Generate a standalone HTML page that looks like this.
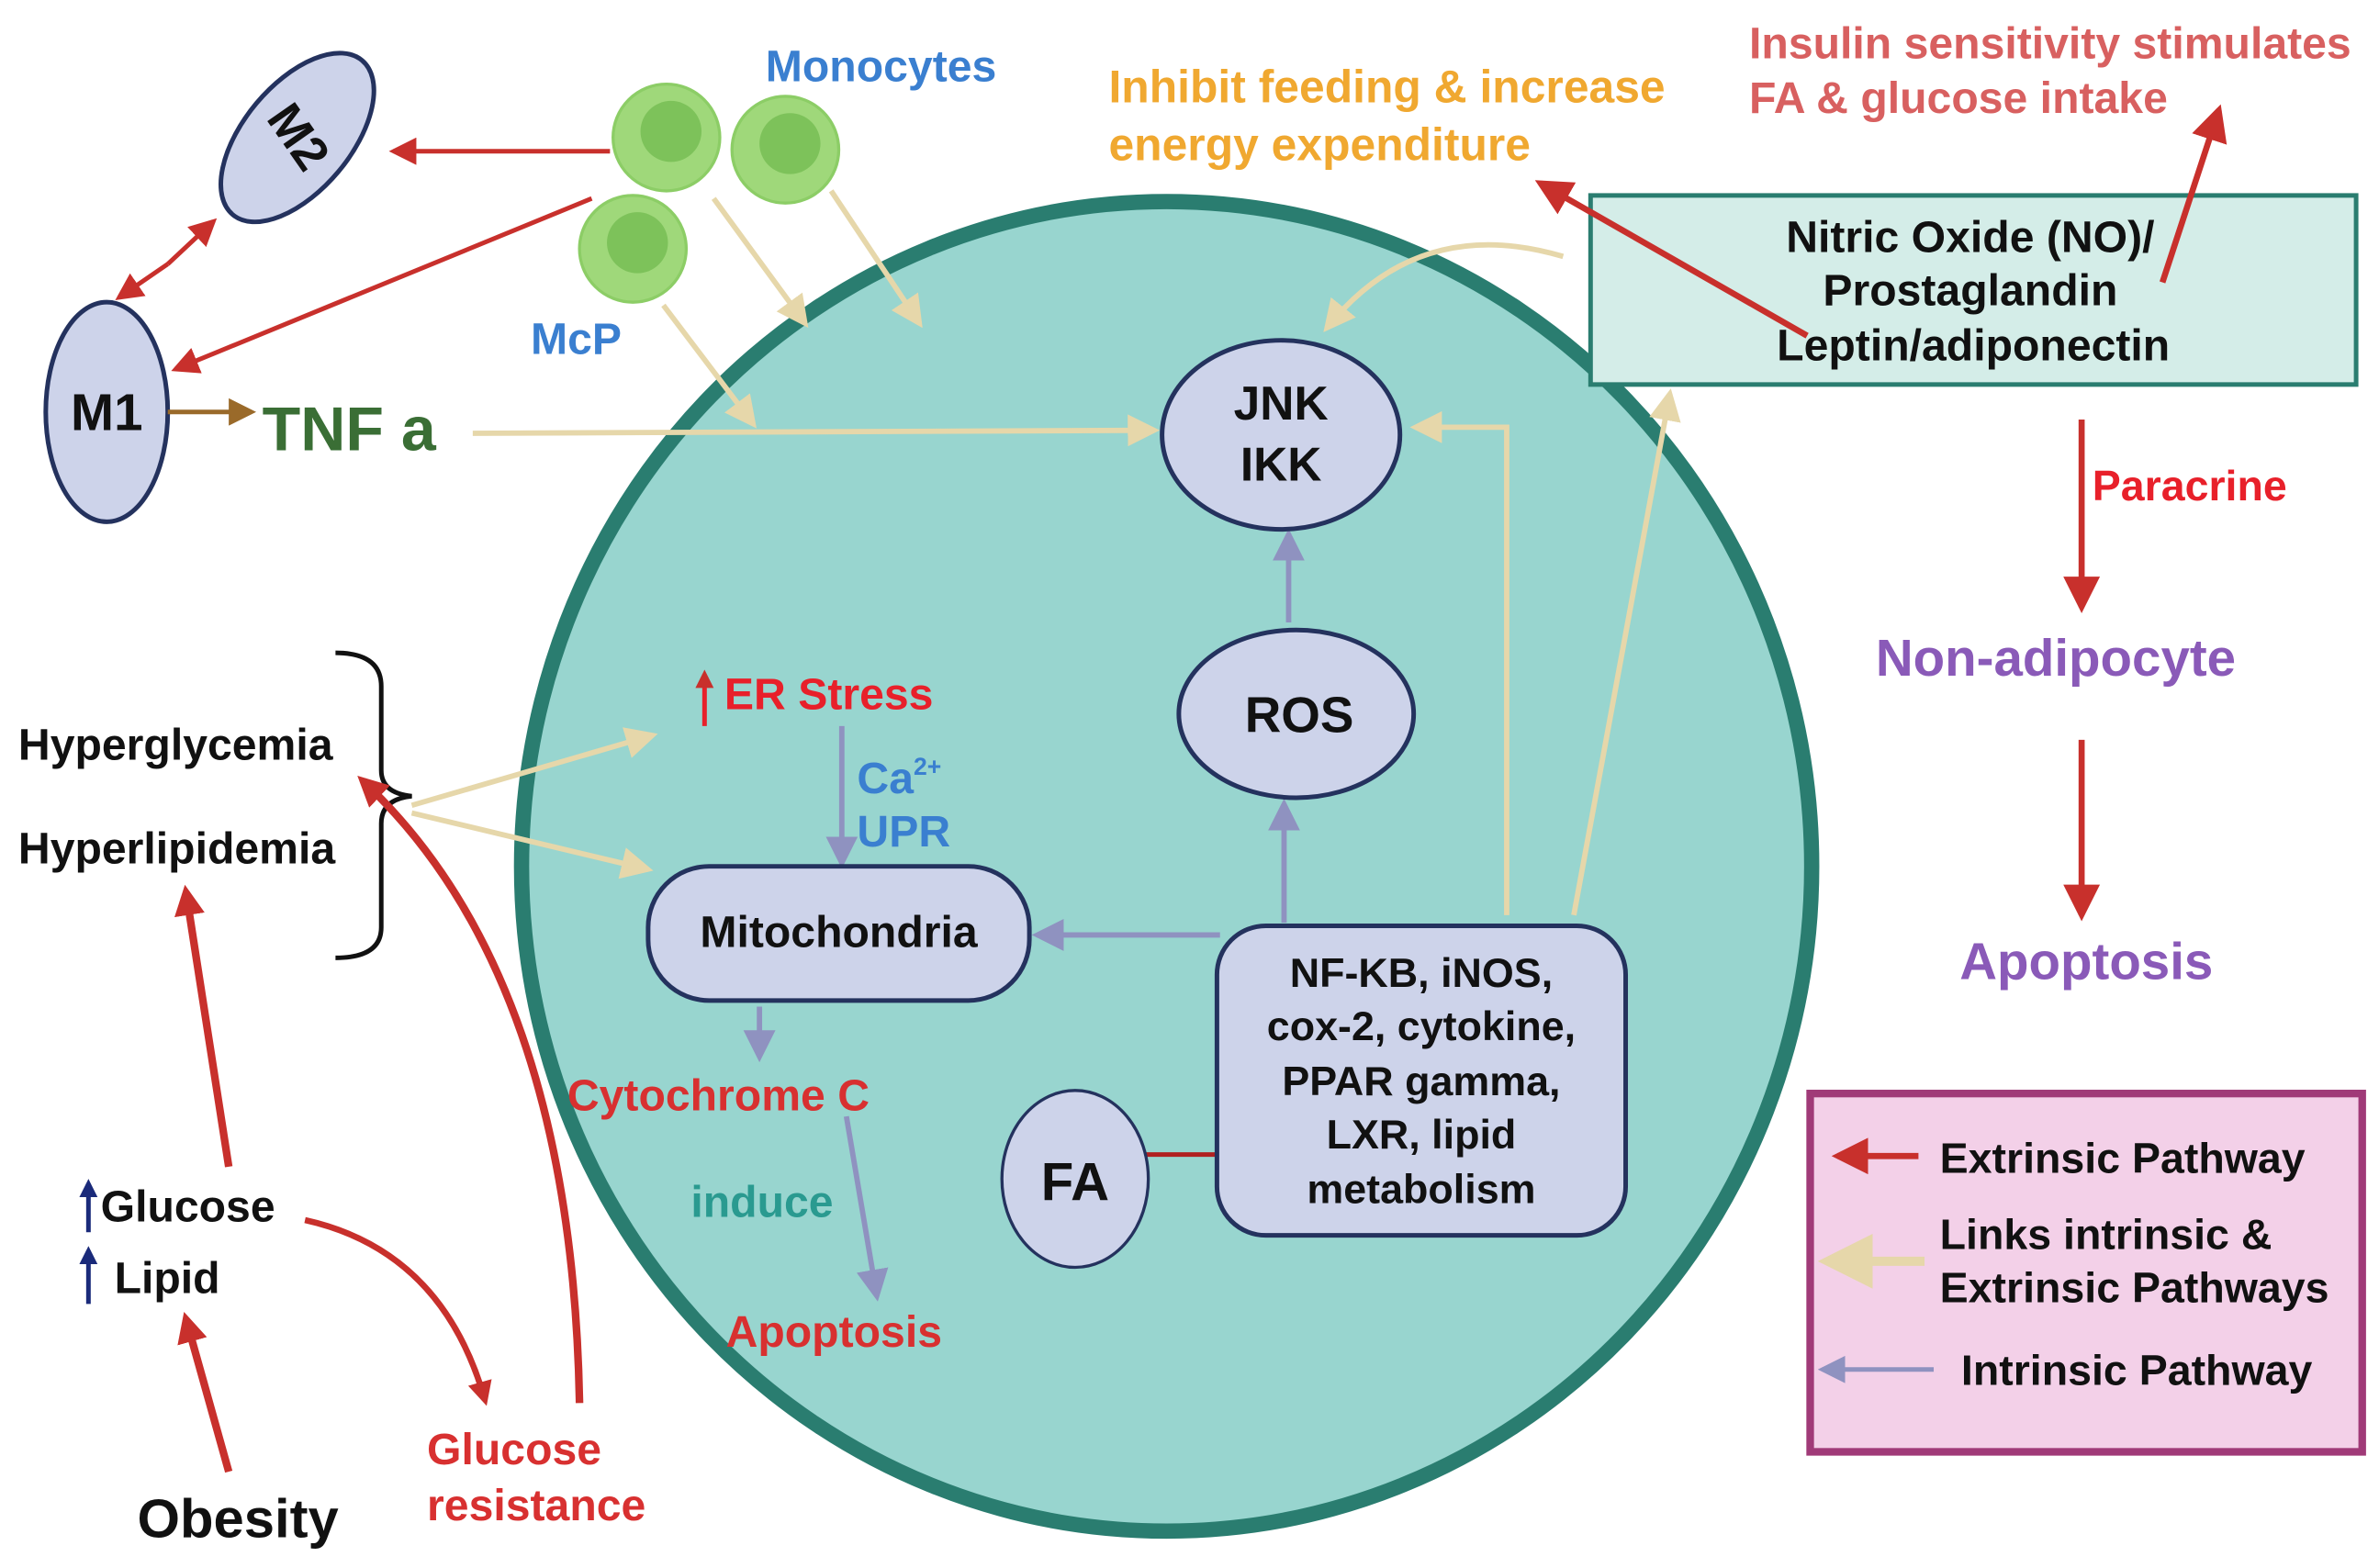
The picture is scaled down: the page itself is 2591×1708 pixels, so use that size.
<!DOCTYPE html>
<html><head><meta charset="utf-8"><style>html,body{margin:0;padding:0;background:#fff}svg{display:block}</style></head>
<body>
<svg width="2591" height="1708" viewBox="0 0 1560 1028" xmlns="http://www.w3.org/2000/svg" font-family="Liberation Sans, sans-serif" font-weight="bold">
<defs>
<marker id="r" markerWidth="6" markerHeight="6" refX="5" refY="3" orient="auto" markerUnits="strokeWidth"><path d="M0,0 L6,3 L0,6 z" fill="#c8302c"/></marker>
<marker id="rb" markerWidth="4" markerHeight="4" refX="3" refY="2" orient="auto" markerUnits="strokeWidth"><path d="M0,0 L4,2 L0,4 z" fill="#c8302c"/></marker>
<marker id="nb" markerWidth="4" markerHeight="4" refX="3" refY="2" orient="auto" markerUnits="strokeWidth"><path d="M0,0 L4,2 L0,4 z" fill="#1a2a7a"/></marker>
<marker id="t" markerWidth="6" markerHeight="6" refX="5" refY="3" orient="auto" markerUnits="strokeWidth"><path d="M0,0 L6,3 L0,6 z" fill="#e6d7aa"/></marker>
<marker id="p" markerWidth="6" markerHeight="6" refX="5" refY="3" orient="auto" markerUnits="strokeWidth"><path d="M0,0 L6,3 L0,6 z" fill="#8f92c0"/></marker>
<marker id="b" markerWidth="6" markerHeight="6" refX="5" refY="3" orient="auto" markerUnits="strokeWidth"><path d="M0,0 L6,3 L0,6 z" fill="#9a6a2a"/></marker>
</defs>
<ellipse cx="765" cy="568" rx="423" ry="436" fill="#98d5cf" stroke="#2a7d70" stroke-width="10"/>
<ellipse cx="195" cy="90" rx="35" ry="66" transform="rotate(40 195 90)" fill="#cdd3ea" stroke="#24325e" stroke-width="3"/>
<text x="195" y="100" font-size="32" text-anchor="middle" transform="rotate(55 195 90)" fill="#111">M2</text>
<ellipse cx="70" cy="270" rx="40" ry="72" fill="#cdd3ea" stroke="#24325e" stroke-width="3"/>
<text x="70" y="282" font-size="34" text-anchor="middle" fill="#111">M1</text>
<g fill="#9fd87a" stroke="#8ccd66" stroke-width="2">
<circle cx="437" cy="90" r="35"/><circle cx="515" cy="98" r="35"/><circle cx="415" cy="163" r="35"/></g>
<g fill="#7dc25a"><circle cx="440" cy="86" r="20"/><circle cx="518" cy="94" r="20"/><circle cx="418" cy="159" r="20"/></g>
<text x="502" y="53" font-size="29" fill="#3a7fd0">Monocytes</text>
<text x="348" y="232" font-size="29" fill="#3a7fd0">McP</text>
<text x="172" y="295" font-size="41" fill="#3a6e35">TNF a</text>
<g stroke="#c8302c" stroke-width="3" fill="none">
<line x1="400" y1="99" x2="258" y2="99" marker-end="url(#r)"/>
<line x1="388" y1="130" x2="115" y2="242" marker-end="url(#r)"/>
<line x1="110" y1="173" x2="140" y2="145" marker-end="url(#r)"/>
<line x1="110" y1="173" x2="78" y2="195" marker-end="url(#r)"/>
</g>
<line x1="110" y1="270" x2="165" y2="270" stroke="#9a6a2a" stroke-width="3" marker-end="url(#b)"/>
<g stroke="#e6d7aa" stroke-width="3.5" fill="none">
<line x1="468" y1="130" x2="528" y2="212" marker-end="url(#t)"/>
<line x1="545" y1="125" x2="603" y2="212" marker-end="url(#t)"/>
<line x1="435" y1="200" x2="494" y2="278" marker-end="url(#t)"/>
<line x1="310" y1="284" x2="757" y2="282" marker-end="url(#t)"/>
<path d="M988 600 L988 280 L928 280" marker-end="url(#t)"/>
<line x1="1032" y1="600" x2="1095" y2="258" marker-end="url(#t)"/>
<path d="M1025 168 Q930 140 870 215" marker-end="url(#t)"/>
<line x1="270" y1="528" x2="428" y2="482" marker-end="url(#t)"/>
<line x1="270" y1="533" x2="425" y2="570" marker-end="url(#t)"/>
</g>
<g stroke="#8f92c0" stroke-width="3.5" fill="none">
<line x1="845" y1="408" x2="845" y2="350" marker-end="url(#p)"/>
<line x1="842" y1="605" x2="842" y2="527" marker-end="url(#p)"/>
<line x1="800" y1="613" x2="680" y2="613" marker-end="url(#p)"/>
<line x1="552" y1="476" x2="552" y2="566" marker-end="url(#p)"/>
<line x1="498" y1="660" x2="498" y2="693" marker-end="url(#p)"/>
<line x1="555" y1="732" x2="575" y2="850" marker-end="url(#p)"/>
</g>
<line x1="750" y1="757" x2="800" y2="757" stroke="#b02020" stroke-width="3"/>
<ellipse cx="840" cy="285" rx="78" ry="62" fill="#cdd3ea" stroke="#24325e" stroke-width="3"/>
<text x="840" y="275" font-size="31" text-anchor="middle" fill="#111">JNK</text>
<text x="840" y="315" font-size="31" text-anchor="middle" fill="#111">IKK</text>
<ellipse cx="850" cy="468" rx="77" ry="55" fill="#cdd3ea" stroke="#24325e" stroke-width="3"/>
<text x="852" y="480" font-size="33" text-anchor="middle" fill="#111">ROS</text>
<rect x="425" y="568" width="250" height="88" rx="40" fill="#cdd3ea" stroke="#24325e" stroke-width="3"/>
<text x="550" y="621" font-size="29" text-anchor="middle" fill="#111">Mitochondria</text>
<rect x="798" y="607" width="268" height="203" rx="32" fill="#cdd3ea" stroke="#24325e" stroke-width="3"/>
<g font-size="27" text-anchor="middle" fill="#111">
<text x="932" y="647">NF-KB, iNOS,</text><text x="932" y="682">cox-2, cytokine,</text>
<text x="932" y="718">PPAR gamma,</text><text x="932" y="753">LXR, lipid</text><text x="932" y="789">metabolism</text></g>
<ellipse cx="705" cy="773" rx="48" ry="58" fill="#cdd3ea" stroke="#24325e" stroke-width="2"/>
<text x="705" y="787" font-size="35" text-anchor="middle" fill="#111">FA</text>
<text x="475" y="465" font-size="29" fill="#e8202a">ER Stress</text>
<line x1="462" y1="476" x2="462" y2="442" stroke="#e8202a" stroke-width="3" marker-end="url(#rb)"/>
<text x="562" y="520" font-size="29" fill="#3a7fd0">Ca<tspan font-size="16" dy="-12">2+</tspan></text>
<text x="562" y="555" font-size="29" fill="#3a7fd0">UPR</text>
<text x="372" y="728" font-size="29" fill="#d83030">Cytochrome C</text>
<text x="453" y="798" font-size="29" fill="#2a9a90">induce</text>
<text x="476" y="883" font-size="29" fill="#d83030">Apoptosis</text>
<rect x="1043" y="128" width="502" height="124" fill="#d4ede8" stroke="#2a7d70" stroke-width="3"/>
<g font-size="29" text-anchor="middle" fill="#111"><text x="1292" y="165">Nitric Oxide (NO)/</text><text x="1292" y="200">Prostaglandin</text><text x="1294" y="236">Leptin/adiponectin</text></g>
<g stroke="#c8302c" stroke-width="4" fill="none">
<line x1="1185" y1="220" x2="1010" y2="120" marker-end="url(#r)"/>
<line x1="1418" y1="185" x2="1455" y2="72" marker-end="url(#r)"/>
<line x1="1365" y1="275" x2="1365" y2="398" marker-end="url(#r)"/>
<line x1="1365" y1="485" x2="1365" y2="600" marker-end="url(#r)"/>
</g>
<text x="727" y="67" font-size="30" fill="#f0a830">Inhibit feeding &amp; increase</text>
<text x="727" y="105" font-size="30" fill="#f0a830">energy expenditure</text>
<text x="1147" y="38" font-size="29" fill="#d86060">Insulin sensitivity stimulates</text>
<text x="1147" y="74" font-size="29" fill="#d86060">FA &amp; glucose intake</text>
<text x="1372" y="328" font-size="28" fill="#e8202a">Paracrine</text>
<text x="1230" y="443" font-size="34" fill="#8a5ab8">Non-adipocyte</text>
<text x="1285" y="642" font-size="34" fill="#8a5ab8">Apoptosis</text>
<text x="12" y="498" font-size="29" fill="#111">Hyperglycemia</text>
<text x="12" y="566" font-size="29" fill="#111">Hyperlipidemia</text>
<path d="M220 428 Q250 428 250 450 L250 505 Q250 520 270 522 Q250 524 250 540 L250 608 Q250 628 220 628" stroke="#111" stroke-width="3" fill="none"/>
<text x="66" y="801" font-size="29" fill="#111">Glucose</text>
<text x="75" y="848" font-size="29" fill="#111">Lipid</text>
<line x1="58" y1="808" x2="58" y2="776" stroke="#1a2a7a" stroke-width="3" marker-end="url(#nb)"/>
<line x1="58" y1="855" x2="58" y2="820" stroke="#1a2a7a" stroke-width="3" marker-end="url(#nb)"/>
<text x="90" y="1008" font-size="36" fill="#111">Obesity</text>
<text x="280" y="960" font-size="29" fill="#d83030">Glucose</text>
<text x="280" y="997" font-size="29" fill="#d83030">resistance</text>
<g stroke="#c8302c" fill="none">
<line x1="150" y1="765" x2="122" y2="585" stroke-width="5" marker-end="url(#rb)"/>
<line x1="150" y1="965" x2="122" y2="865" stroke-width="5" marker-end="url(#rb)"/>
<path d="M200 800 Q290 820 318 918" stroke-width="4" marker-end="url(#rb)"/>
<path d="M380 920 Q375 640 238 512" stroke-width="5" marker-end="url(#rb)"/>
</g>
<rect x="1187" y="717" width="362" height="235" fill="#f3d0e8" stroke="#a03a78" stroke-width="5"/>
<line x1="1258" y1="758" x2="1205" y2="758" stroke="#c8302c" stroke-width="4" marker-end="url(#r)"/>
<line x1="1262" y1="827" x2="1198" y2="827" stroke="#e6d7aa" stroke-width="6" marker-end="url(#t)"/>
<line x1="1268" y1="898" x2="1195" y2="898" stroke="#8f92c0" stroke-width="3" marker-end="url(#p)"/>
<g font-size="28" fill="#111"><text x="1272" y="769">Extrinsic Pathway</text><text x="1272" y="819">Links intrinsic &amp;</text><text x="1272" y="854">Extrinsic Pathways</text><text x="1286" y="908">Intrinsic Pathway</text></g>
</svg>
</body></html>
